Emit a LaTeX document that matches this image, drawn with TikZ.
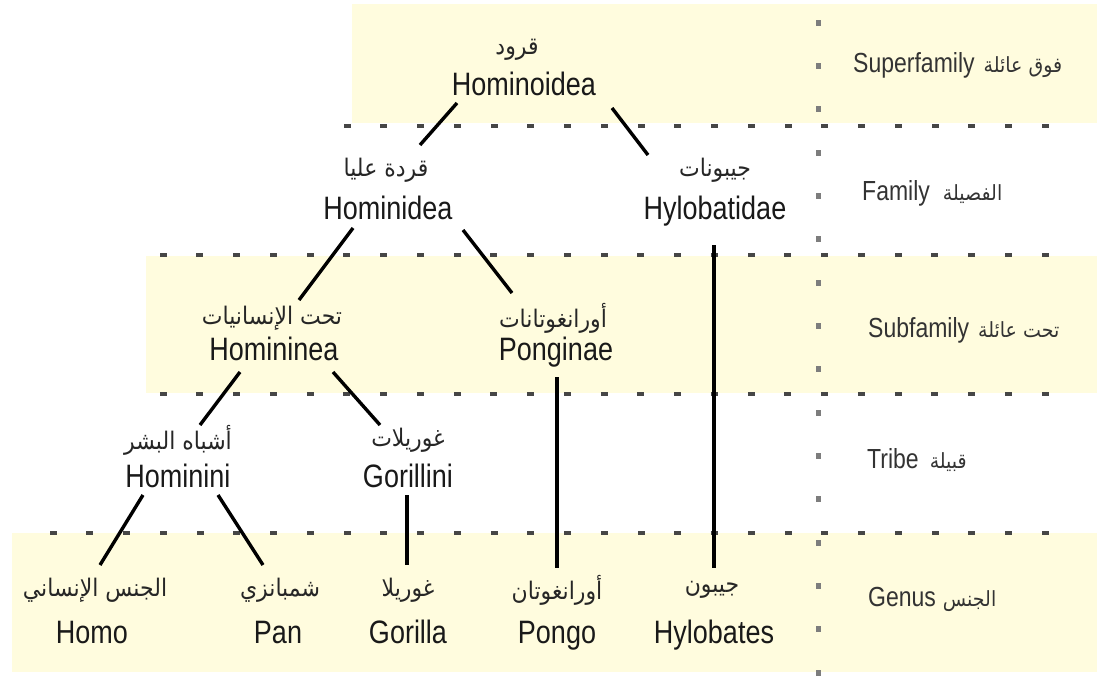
\documentclass[tikz,border=0pt]{standalone}
\usepackage{fontspec}
\usepackage{graphicx}
\setmainfont{Liberation Sans}
\newfontfamily\arabicfont[Script=Arabic]{DejaVu Sans}
\TeXXeTstate=1
\usetikzlibrary{calc}

\definecolor{bandfill}{RGB}{255,252,222}
\definecolor{rulegray}{RGB}{70,70,70}
\definecolor{sidegray}{RGB}{125,125,125}

% stretched Latin and Arabic text
\newcommand{\tallL}[1]{\scalebox{1}[1.2]{#1}}
\newcommand{\arab}[1]{\scalebox{1}[1.1]{\arabicfont\beginR #1\endR}}

\tikzset{
  latname/.style={anchor=base, inner sep=0pt, text=black!90,
    font=\fontsize{27}{32}\selectfont},
  arname/.style={anchor=center, inner sep=0pt, text=black!85,
    font=\fontsize{22}{26}\selectfont},
  ranklabel/.style={anchor=base west, inner sep=0pt, text=black!80,
    font=\fontsize{23}{28}\selectfont},
  rankar/.style={font=\fontsize{19}{22}\selectfont},
  link/.style={line width=3.4pt, black},
  band/.style={fill=bandfill, draw=none}
}
\newcommand{\rankarab}[1]{{\fontsize{19}{22}\selectfont\arab{#1}}}

\begin{document}
\begin{tikzpicture}[x=1pt, y=-1pt]
\useasboundingbox (0,0) rectangle (1097,677);

% shaded rank bands
\fill[band] (352,4) rectangle (1097,123);
\fill[band] (146,256) rectangle (1097,393);
\fill[band] (12,533) rectangle (1097,672);

% dotted rank separators
\foreach \y/\xs/\n in {126/347/19, 255/163/24, 394/163/24, 533/53/27} {
  \foreach \k in {0,...,\n} {
    \fill[rulegray] ({\xs+\k*36.75-3.5},{\y-1.8}) rectangle ++(7,3.6);
  }
}
% dotted column separator
\foreach \k in {0,...,15} {
  \fill[sidegray] (815.5,{22.7+\k*43.33-3}) rectangle ++(5,6);
}

% rank labels
\node[ranklabel] (rsuper) at (853,73) {\tallL{Superfamily}\hspace{9pt}\rankarab{فوق عائلة}};
\node[ranklabel] (rfamily) at (862,200) {\tallL{Family}\hspace{13pt}\rankarab{الفصيلة}};
\node[ranklabel] (rsub) at (868,337) {\tallL{Subfamily}\hspace{9pt}\rankarab{تحت عائلة}};
\node[ranklabel] (rtribe) at (867,468) {\tallL{Tribe}\hspace{11pt}\rankarab{قبيلة}};
\node[ranklabel] (rgenus) at (868,606) {\tallL{Genus}\hspace{7pt}\rankarab{الجنس}};

% taxa: Latin names
\node[latname] (hominoidea)  at (524,95)  {\tallL{Hominoidea}};
\node[latname] (hominidea)   at (388,219) {\tallL{Hominidea}};
\node[latname] (hylobatidae) at (715,219) {\tallL{Hylobatidae}};
\node[latname] (homininea)   at (274,360) {\tallL{Homininea}};
\node[latname] (ponginae)    at (556,360) {\tallL{Ponginae}};
\node[latname] (hominini)    at (178,487) {\tallL{Hominini}};
\node[latname] (gorillini)   at (408,487) {\tallL{Gorillini}};
\node[latname] (homo)        at (92,643)  {\tallL{Homo}};
\node[latname] (pan)         at (278,643) {\tallL{Pan}};
\node[latname] (gorilla)     at (408,643) {\tallL{Gorilla}};
\node[latname] (pongo)       at (557,643) {\tallL{Pongo}};
\node[latname] (hylobates)   at (714,643) {\tallL{Hylobates}};

% taxa: Arabic names
\node[arname] (hominoidea-ar)  at (517,50)  {\arab{قرود}};
\node[arname] (hominidea-ar)   at (386,170) {\arab{قردة عليا}};
\node[arname] (hylobatidae-ar) at (715,170) {\arab{جيبونات}};
\node[arname] (homininea-ar)   at (272,318) {\arab{تحت الإنسانيات}};
\node[arname] (ponginae-ar)    at (553,318) {\arab{أورانغوتانات}};
\node[arname] (hominini-ar)    at (178,440) {\arab{أشباه البشر}};
\node[arname] (gorillini-ar)   at (408,440) {\arab{غوريلات}};
\node[arname] (homo-ar)        at (95,590)  {\arab{الجنس الإنساني}};
\node[arname] (pan-ar)         at (280,590) {\arab{شمبانزي}};
\node[arname] (gorilla-ar)     at (408,590) {\arab{غوريلا}};
\node[arname] (pongo-ar)       at (557,590) {\arab{أورانغوتان}};
\node[arname] (hylobates-ar)   at (712,590) {\arab{جيبون}};

% tree links
\draw[link] ([shift={(-67,8)}]hominoidea.base) -- ([shift={(34,-25)}]hominidea-ar.center);
\draw[link] ([shift={(88,13)}]hominoidea.base) -- ([shift={(-67,-15)}]hylobatidae-ar.center);
\draw[link] ([shift={(-35,9)}]hominidea.base) -- ([shift={(27,-18)}]homininea-ar.center);
\draw[link] ([shift={(75,11)}]hominidea.base) -- ([shift={(-41,-25)}]ponginae-ar.center);
\draw[link] ([shift={(-1,26)}]hylobatidae.base) -- ([shift={(2,-22)}]hylobates-ar.center);
\draw[link] ([shift={(1,17)}]ponginae.base) -- ([shift={(0,-22)}]pongo-ar.center);
\draw[link] ([shift={(-34,12)}]homininea.base) -- ([shift={(22,-15)}]hominini-ar.center);
\draw[link] ([shift={(59,12)}]homininea.base) -- ([shift={(-28,-15)}]gorillini-ar.center);
\draw[link] ([shift={(-35,8)}]hominini.base) -- ([shift={(5,-25)}]homo-ar.center);
\draw[link] ([shift={(40,8)}]hominini.base) -- ([shift={(-17,-25)}]pan-ar.center);
\draw[link] ([shift={(-1,8)}]gorillini.base) -- ([shift={(-1,-25)}]gorilla-ar.center);

\end{tikzpicture}
\end{document}
